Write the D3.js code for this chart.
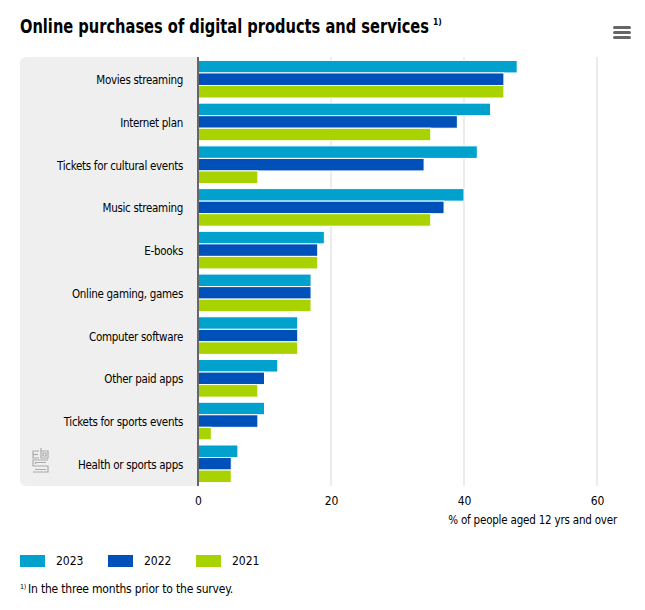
<!DOCTYPE html>
<html>
<head>
<meta charset="utf-8">
<script src="https://cdn.jsdelivr.net/npm/d3@7"></script>
<style>
  body { margin: 0; background: #fff; }
  svg text { font-family: "Liberation Sans Narrow", "DejaVu Sans Condensed", "Roboto Condensed", sans-serif; }
</style>
</head>
<body>
<svg id="chart" width="645" height="610"></svg>
<script>
// data
var categories = ["Movies streaming", "Internet plan", "Tickets for cultural events", "Music streaming",
    "E-books", "Online gaming, games", "Computer software", "Other paid apps",
    "Tickets for sports events", "Health or sports apps"];
var years = ["2023", "2022", "2021"];
var values2023 = [48, 44, 42, 40, 19, 17, 15, 12, 10, 6];
var values2022 = [46, 39, 34, 37, 18, 17, 15, 10, 9, 5];
var values2021 = [46, 35, 9, 35, 18, 17, 15, 9, 2, 5];
var xTicks = [0, 20, 40, 60];
var colors = ["#00a1cd", "#0050b9", "#a8d300"];

var series = [values2023, values2022, values2021];

var svg = d3.select("#chart");

var plotLeft = 198, plotRight = 597, plotTop = 57, plotBottom = 486;

var x = d3.scaleLinear().domain([0, 60]).range([plotLeft, plotRight]);
var y = d3.scaleBand().domain(categories).range([plotTop, plotBottom]).paddingInner(0.12).paddingOuter(0.08);
var ySub = d3.scaleBand().domain(years).range([0, y.bandwidth()]);

// title
svg.append("text")
    .attr("x", 20)
    .attr("y", 33)
    .attr("font-size", 19)
    .attr("font-weight", "bold")
    .attr("fill", "#000")
    .attr("textLength", 409)
    .attr("lengthAdjust", "spacingAndGlyphs")
    .text("Online purchases of digital products and services");
svg.append("text")
    .attr("x", 433)
    .attr("y", 25)
    .attr("font-size", 8.5)
    .attr("font-weight", "bold")
    .attr("fill", "#000")
    .text("1)");

// menu icon
for (var i = 0; i < 3; i++) {
    svg.append("rect")
        .attr("x", 613).attr("y", 26 + i * 5)
        .attr("width", 18).attr("height", 3)
        .attr("rx", 1.5)
        .attr("fill", "#666");
}

// grey label panel
svg.append("rect")
    .attr("x", 20).attr("y", plotTop)
    .attr("width", plotLeft - 20 + 6).attr("height", plotBottom - plotTop)
    .attr("rx", 6)
    .attr("fill", "#efefef");
svg.append("rect")
    .attr("x", plotLeft).attr("y", plotTop - 1)
    .attr("width", 10).attr("height", plotBottom - plotTop + 2)
    .attr("fill", "#fff");

// gridlines
svg.append("g")
    .selectAll("line")
    .data(xTicks.slice(1))
    .enter().append("line")
    .attr("x1", function(d) { return x(d); })
    .attr("x2", function(d) { return x(d); })
    .attr("y1", plotTop)
    .attr("y2", plotBottom)
    .attr("stroke", "#d9d9d9")
    .attr("stroke-width", 1);

// bars
var groups = svg.append("g")
    .selectAll("g")
    .data(categories)
    .enter().append("g")
    .attr("transform", function(d) { return "translate(0," + y(d) + ")"; });

groups.selectAll("rect")
    .data(function(d, i) {
        return years.map(function(yr, j) { return {year: yr, value: series[j][i], color: colors[j]}; });
    })
    .enter().append("rect")
    .attr("x", x(0))
    .attr("y", function(d) { return ySub(d.year); })
    .attr("width", function(d) { return x(d.value) - x(0); })
    .attr("height", ySub.bandwidth())
    .attr("fill", function(d) { return d.color; })
    .attr("stroke", "#fff")
    .attr("stroke-width", 1);

// category labels
svg.append("g")
    .selectAll("text")
    .data(categories)
    .enter().append("text")
    .attr("x", 183)
    .attr("y", function(d) { return y(d) + y.bandwidth() / 2 + 5; })
    .attr("text-anchor", "end")
    .attr("font-size", 11.5)
    .attr("letter-spacing", -0.3)
    .attr("fill", "#000")
    .text(function(d) { return d; });

// axis line
svg.append("line")
    .attr("x1", x(0)).attr("x2", x(0))
    .attr("y1", plotTop).attr("y2", plotBottom)
    .attr("stroke", "#666")
    .attr("stroke-width", 2);

// x axis
var xAxis = d3.axisBottom(x).tickValues(xTicks).tickSize(0).tickPadding(10);
var ax = svg.append("g")
    .attr("transform", "translate(0," + plotBottom + ")")
    .call(xAxis);
ax.select(".domain").remove();
ax.selectAll("text")
    .attr("font-size", 12)
    .attr("fill", "#000")
    .style("font-family", "\"Liberation Sans Narrow\", \"DejaVu Sans Condensed\", sans-serif");

svg.append("text")
    .attr("x", 617)
    .attr("y", 524)
    .attr("text-anchor", "end")
    .attr("font-size", 11.5)
    .attr("letter-spacing", -0.2)
    .attr("fill", "#000")
    .text("% of people aged 12 yrs and over");

// cbs logo
var logo = svg.append("g")
    .attr("transform", "translate(32,448)")
    .attr("fill", "none")
    .attr("stroke", "#aaa")
    .attr("stroke-width", 1.2);
logo.append("path").attr("d", "M7 3 H1 V10 H7");
logo.append("path").attr("d", "M1 6.5 H6");
logo.append("path").attr("d", "M9 0 V10 H16 V3 H9");
logo.append("path").attr("d", "M11 5 H14 V8 H11 Z");
logo.append("path").attr("d", "M16 12 H1 V18 H16 V24 H1");
logo.append("path").attr("d", "M14 14.5 H3.5 V16 M3 21.5 H14");

// legend
var legend = svg.append("g")
    .selectAll("g")
    .data(years)
    .enter().append("g")
    .attr("transform", function(d, i) { return "translate(" + (20 + i * 88) + ",555)"; });
legend.append("rect")
    .attr("width", 25).attr("height", 12)
    .attr("fill", function(d, i) { return colors[i]; });
legend.append("text")
    .attr("x", 36)
    .attr("y", 10)
    .attr("font-size", 12)
    .attr("fill", "#000")
    .text(function(d) { return d; });

// footnote
var foot = svg.append("text")
    .attr("x", 20)
    .attr("y", 593)
    .attr("font-size", 12)
    .attr("letter-spacing", -0.2)
    .attr("fill", "#000");
foot.append("tspan")
    .attr("font-size", 7)
    .attr("dy", -4)
    .text("1)");
foot.append("tspan")
    .attr("dy", 4)
    .attr("dx", 2)
    .text("In the three months prior to the survey.");
</script>
</body>
</html>
